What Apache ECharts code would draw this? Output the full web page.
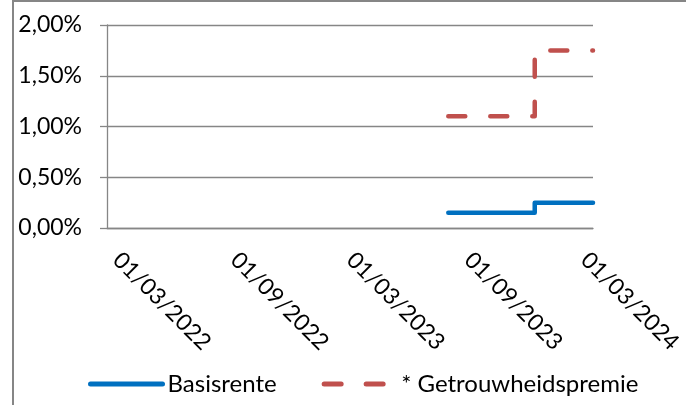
<!DOCTYPE html>
<html>
<head>
<meta charset="utf-8">
<script src="https://cdn.jsdelivr.net/npm/echarts@6/dist/echarts.min.js"></script>
<style>
html,body{margin:0;padding:0;background:#fff;}
#chart{width:686px;height:405px;}
</style>
</head>
<body>
<div id="chart"></div>
<script>
// ---- data ----
const axisStart = '2022-02-01';
const axisEnd = '2024-03-01';
const dates = ['2023-07-19', '2023-12-01', '2023-12-01', '2024-03-01'];
const basisrente = [0.15, 0.15, 0.25, 0.25];
const getrouwheidspremie = [1.10, 1.10, 1.75, 1.75];
const xTickLabels = ['01/03/2022', '01/09/2022', '01/03/2023', '01/09/2023', '01/03/2024'];
const yTicks = [0, 0.5, 1.0, 1.5, 2.0];
const seriesNames = ['Basisrente', '* Getrouwheidspremie'];

function parseDMY(s) {
  const p = s.split('/');
  return Date.UTC(+p[2], +p[1] - 1, +p[0]);
}
function parseISO(s) {
  const p = s.split('-');
  return Date.UTC(+p[0], +p[1] - 1, +p[2]);
}
function pad(n) { return (n < 10 ? '0' : '') + n; }
function fmtDate(v) {
  const d = new Date(v);
  return pad(d.getUTCDate()) + '/' + pad(d.getUTCMonth() + 1) + '/' + d.getUTCFullYear();
}

const FONT = 'Lato';
const GRID = '#868686';

const chart = echarts.init(document.getElementById('chart'), null, {renderer: 'canvas'});
chart.setOption({
  animation: false,
  backgroundColor: '#fff',
  textStyle: {fontFamily: FONT},
  grid: {left: 107, right: 93, top: 25, bottom: 177, containLabel: false},
  graphic: [
    {type: 'line', shape: {x1: 13, y1: 0, x2: 13, y2: 405}, style: {stroke: GRID, lineWidth: 2}},
    {type: 'line', shape: {x1: 12, y1: 1, x2: 686, y2: 1}, style: {stroke: GRID, lineWidth: 2}}
  ],
  legend: {
    left: 83,
    top: 367,
    itemWidth: 72,
    itemHeight: 14,
    itemGap: 45,
    itemStyle: {opacity: 0},
    lineStyle: {width: 5, cap: 'round'},
    textStyle: {fontFamily: FONT, fontSize: 24, color: '#000'},
    data: seriesNames
  },
  xAxis: {
    type: 'value',
    min: parseISO(axisStart),
    max: parseISO(axisEnd),
    axisLine: {show: true, lineStyle: {color: GRID, width: 1.3}},
    axisTick: {show: false},
    splitLine: {show: false},
    axisLabel: {
      customValues: xTickLabels.map(parseDMY),
      formatter: function (v) { return fmtDate(v); },
      rotate: -45,
      margin: 20,
      verticalAlign: 'top',
      fontFamily: FONT,
      fontSize: 23,
      color: '#000',
      showMinLabel: true,
      showMaxLabel: true
    }
  },
  yAxis: {
    type: 'value',
    min: 0,
    max: 2,
    interval: 0.5,
    axisLine: {show: true, lineStyle: {color: GRID, width: 1.3}},
    axisTick: {show: true, length: 7, inside: false, lineStyle: {color: GRID, width: 1.3}},
    splitLine: {show: true, lineStyle: {color: GRID, width: 1.3}},
    axisLabel: {
      margin: 25,
      fontFamily: FONT,
      fontSize: 23,
      color: '#000',
      formatter: function (v) { return v.toFixed(2).replace('.', ',') + '%'; }
    }
  },
  series: [
    {
      name: seriesNames[0],
      type: 'line',
      data: dates.map((d, i) => [parseISO(d), basisrente[i]]),
      showSymbol: false,
      symbol: 'none',
      color: '#0070C0',
      lineStyle: {color: '#0070C0', width: 4.5, cap: 'round', join: 'round'}
    },
    {
      name: seriesNames[1],
      type: 'line',
      data: dates.map((d, i) => [parseISO(d), getrouwheidspremie[i]]),
      showSymbol: false,
      symbol: 'none',
      color: '#C0504D',
      lineStyle: {color: '#C0504D', width: 4.5, type: [17, 25], cap: 'round', join: 'round'}
    }
  ]
});
</script>
</body>
</html>
